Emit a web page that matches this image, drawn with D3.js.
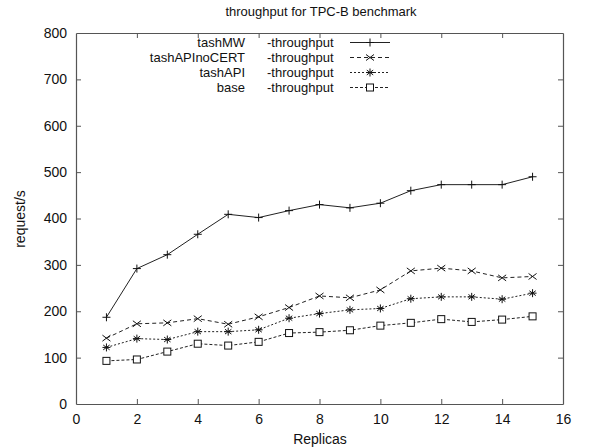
<!DOCTYPE html>
<html><head><meta charset="utf-8">
<script src="https://cdn.jsdelivr.net/npm/d3@7"></script>
<style>body{margin:0;background:#fff}svg{display:block}text{font-family:"Liberation Sans",Arial,sans-serif;fill:#111}</style>
</head><body><svg id="c" width="600" height="448"></svg>
<script>
const replicas = [1,2,3,4,5,6,7,8,9,10,11,12,13,14,15];
const tashMW = [187,292,322,366,409,402,417,430,423,433,460,473,473,473,490];
const tashAPInoCERT = [142,173,175,184,172,188,208,233,229,246,287,293,287,272,275];
const tashAPI = [122,141,139,156,156,160,185,195,203,206,227,231,231,226,239];
const base = [93,96,113,130,126,134,153,155,159,169,175,183,177,182,189];
const seriesNames = ["tashMW","tashAPInoCERT","tashAPI","base"];
const xTicks = [0,2,4,6,8,10,12,14,16];
const yTicks = [0,100,200,300,400,500,600,700,800];

const series = [
  {name:seriesNames[0], values:tashMW, dash:null, marker:"plus"},
  {name:seriesNames[1], values:tashAPInoCERT, dash:"4,3", marker:"cross"},
  {name:seriesNames[2], values:tashAPI, dash:"2,2", marker:"star"},
  {name:seriesNames[3], values:base, dash:"3,2", marker:"square"}
];

const svg = d3.select("#c");
const L=76, R=563, T=33, B=404;
const x = d3.scaleLinear().domain([0,16]).range([L,R]);
const y = d3.scaleLinear().domain([0,800]).range([B,T]);
const axisColor = "#555";
const FS = 14;

const gx = svg.append("g").attr("transform",`translate(0,${B})`)
  .call(d3.axisBottom(x).tickValues(xTicks).tickSizeInner(-5).tickSizeOuter(0));
const gxt = svg.append("g").attr("transform",`translate(0,${T})`)
  .call(d3.axisTop(x).tickValues(xTicks).tickSizeInner(-5).tickSizeOuter(0).tickFormat(""));
const gy = svg.append("g").attr("transform",`translate(${L},0)`)
  .call(d3.axisLeft(y).tickValues(yTicks).tickSizeInner(-5).tickSizeOuter(0).tickPadding(9));
const gyr = svg.append("g").attr("transform",`translate(${R},0)`)
  .call(d3.axisRight(y).tickValues(yTicks).tickSizeInner(-5).tickSizeOuter(0).tickFormat(""));
[gx,gxt,gy,gyr].forEach(g=>{
  g.select(".domain").attr("stroke",axisColor).attr("stroke-width",1.2);
  g.selectAll(".tick line").attr("stroke",axisColor);
  g.selectAll(".tick text").attr("font-size",FS).attr("fill","#111").attr("font-family","Liberation Sans, Arial, sans-serif");
});
gx.selectAll(".tick").filter(d=>d===0||d===16).select("line").remove();
gxt.selectAll(".tick").filter(d=>d===0||d===16).select("line").remove();
gy.selectAll(".tick").filter(d=>d===0||d===800).select("line").remove();
gyr.selectAll(".tick").filter(d=>d===0||d===800).select("line").remove();
gx.selectAll(".tick text").attr("dy","0.35em").attr("y",15);

svg.append("text").attr("x",321).attr("y",16).attr("text-anchor","middle").attr("font-size",13).text("throughput for TPC-B benchmark");
svg.append("text").attr("x",320).attr("y",439).attr("dy","0.35em").attr("text-anchor","middle").attr("font-size",FS).text("Replicas");
svg.append("text").attr("transform","translate(20,219) rotate(-90)").attr("dy","0.35em").attr("text-anchor","middle").attr("font-size",FS).text("request/s");

function drawMarker(g, type, cx, cy){
  const s=4;
  const p = g.append("g").attr("transform",`translate(${cx},${cy})`).attr("stroke","#111").attr("stroke-width",1).attr("fill","none");
  if(type==="plus"||type==="star"){
    p.append("line").attr("x1",-s).attr("x2",s).attr("y1",0).attr("y2",0);
    p.append("line").attr("x1",0).attr("x2",0).attr("y1",-s).attr("y2",s);
  }
  if(type==="cross"||type==="star"){
    const t = type==="star"?3.2:s;
    p.append("line").attr("x1",-t).attr("x2",t).attr("y1",-t*0.75).attr("y2",t*0.75);
    p.append("line").attr("x1",-t).attr("x2",t).attr("y1",t*0.75).attr("y2",-t*0.75);
  }
  if(type==="square"){
    p.append("rect").attr("x",-3.5).attr("y",-3.5).attr("width",7).attr("height",7).attr("fill","#fff");
  }
}

const line = d3.line().x((d,i)=>x(replicas[i])).y(d=>y(d));
series.forEach(s=>{
  svg.append("path").datum(s.values).attr("d",line).attr("fill","none").attr("stroke","#222").attr("stroke-width",1)
    .attr("stroke-dasharray",s.dash);
  const g = svg.append("g");
  s.values.forEach((v,i)=>drawMarker(g,s.marker,x(replicas[i]),y(v)));
});

const LFS = 13, legY0 = 42.5, legDy = 15;
series.forEach((s,i)=>{
  const yy = legY0 + i*legDy;
  svg.append("text").attr("x",245).attr("y",yy).attr("dy","0.35em").attr("text-anchor","end").attr("font-size",LFS).text(s.name);
  svg.append("text").attr("x",267).attr("y",yy).attr("dy","0.35em").attr("font-size",LFS).text("-throughput");
  svg.append("line").attr("x1",350).attr("x2",390).attr("y1",yy).attr("y2",yy).attr("stroke","#222").attr("stroke-width",1).attr("stroke-dasharray",s.dash);
  drawMarker(svg,s.marker,370,yy);
});
</script></body></html>
